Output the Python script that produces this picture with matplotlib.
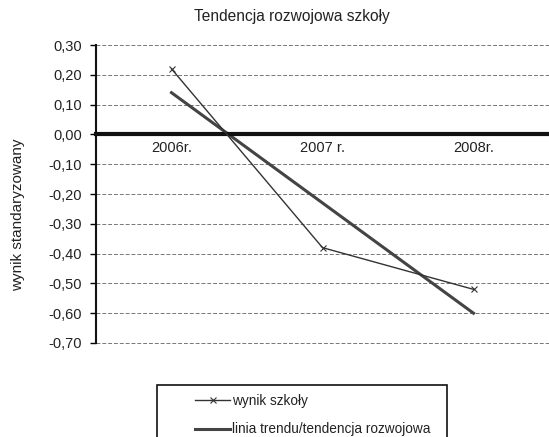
import numpy as np
import matplotlib
matplotlib.use("Agg")
import matplotlib.pyplot as plt
from matplotlib.patches import Rectangle

plt.rcParams['font.family'] = ['Liberation Sans', 'DejaVu Sans']

# dane
lata = ["2006r.", "2007 r.", "2008r."]
wynik_szkoly = [0.22, -0.38, -0.52]
linia_trendu = [0.14, -0.23, -0.60]
y_ticks = [0.30, 0.20, 0.10, 0.00, -0.10, -0.20, -0.30, -0.40, -0.50, -0.60, -0.70]
y_labels = ["0,30", "0,20", "0,10", "0,00", "-0,10", "-0,20", "-0,30",
            "-0,40", "-0,50", "-0,60", "-0,70"]

fig = plt.figure(figsize=(5.49, 4.37), dpi=100)
ax = fig.add_axes([96 / 549, 1 - 343 / 437, 453 / 549, 298 / 437])

# siatka
for v in y_ticks:
    ax.axhline(v, color='#777777', lw=0.7, ls=(0, (4, 2)), zorder=0, clip_on=False)

x = np.arange(len(lata))
l1, = ax.plot(x, wynik_szkoly, color='#333333', lw=1.0, marker='x', ms=4,
              mew=0.8, label="wynik szkoły", zorder=3)
l2, = ax.plot(x, linia_trendu, color='#444444', lw=2.2,
              label="linia trendu/tendencja rozwojowa", zorder=2)

ax.set_xlim(-0.5, 2.5)
ax.set_ylim(-0.70, 0.30)

ax.spines['top'].set_visible(False)
ax.spines['right'].set_visible(False)
ax.spines['bottom'].set_position(('data', 0))
ax.spines['bottom'].set_linewidth(3)
ax.spines['bottom'].set_color('#111111')
ax.spines['left'].set_linewidth(1.5)
ax.spines['left'].set_color('#111111')

ax.set_xticks(x)
ax.set_xticklabels(lata, fontsize=10.5, color='#222222')
ax.tick_params(axis='x', length=0, pad=5)
ax.set_yticks(y_ticks)
ax.set_yticklabels(y_labels, fontsize=10.5, color='#222222')
ax.tick_params(axis='y', direction='out', length=4, width=1, pad=6)

fig.text(292 / 549, 1 - 17 / 437, "Tendencja rozwojowa szkoły", ha='center',
         va='center', fontsize=11.2, color='#222222')
fig.text(18 / 549, 1 - 215 / 437, "wynik standaryzowany", rotation=90,
         ha='center', va='center', fontsize=11, color='#222222')

# ramka legendy
fig.patches.append(Rectangle((157 / 549, -0.05), 290 / 549, 1 - 385 / 437 + 0.05,
                             transform=fig.transFigure, fill=False,
                             edgecolor='#111111', lw=1.2))
fig.legend(handles=[l1, l2], loc='upper left',
           bbox_to_anchor=(195 / 549, 1 - 394 / 437), frameon=False,
           fontsize=9.8, handlelength=2.6, handletextpad=0.15, borderpad=0,
           borderaxespad=0, labelspacing=1.05, labelcolor='#222222')

fig.savefig("out.png", dpi=100)
